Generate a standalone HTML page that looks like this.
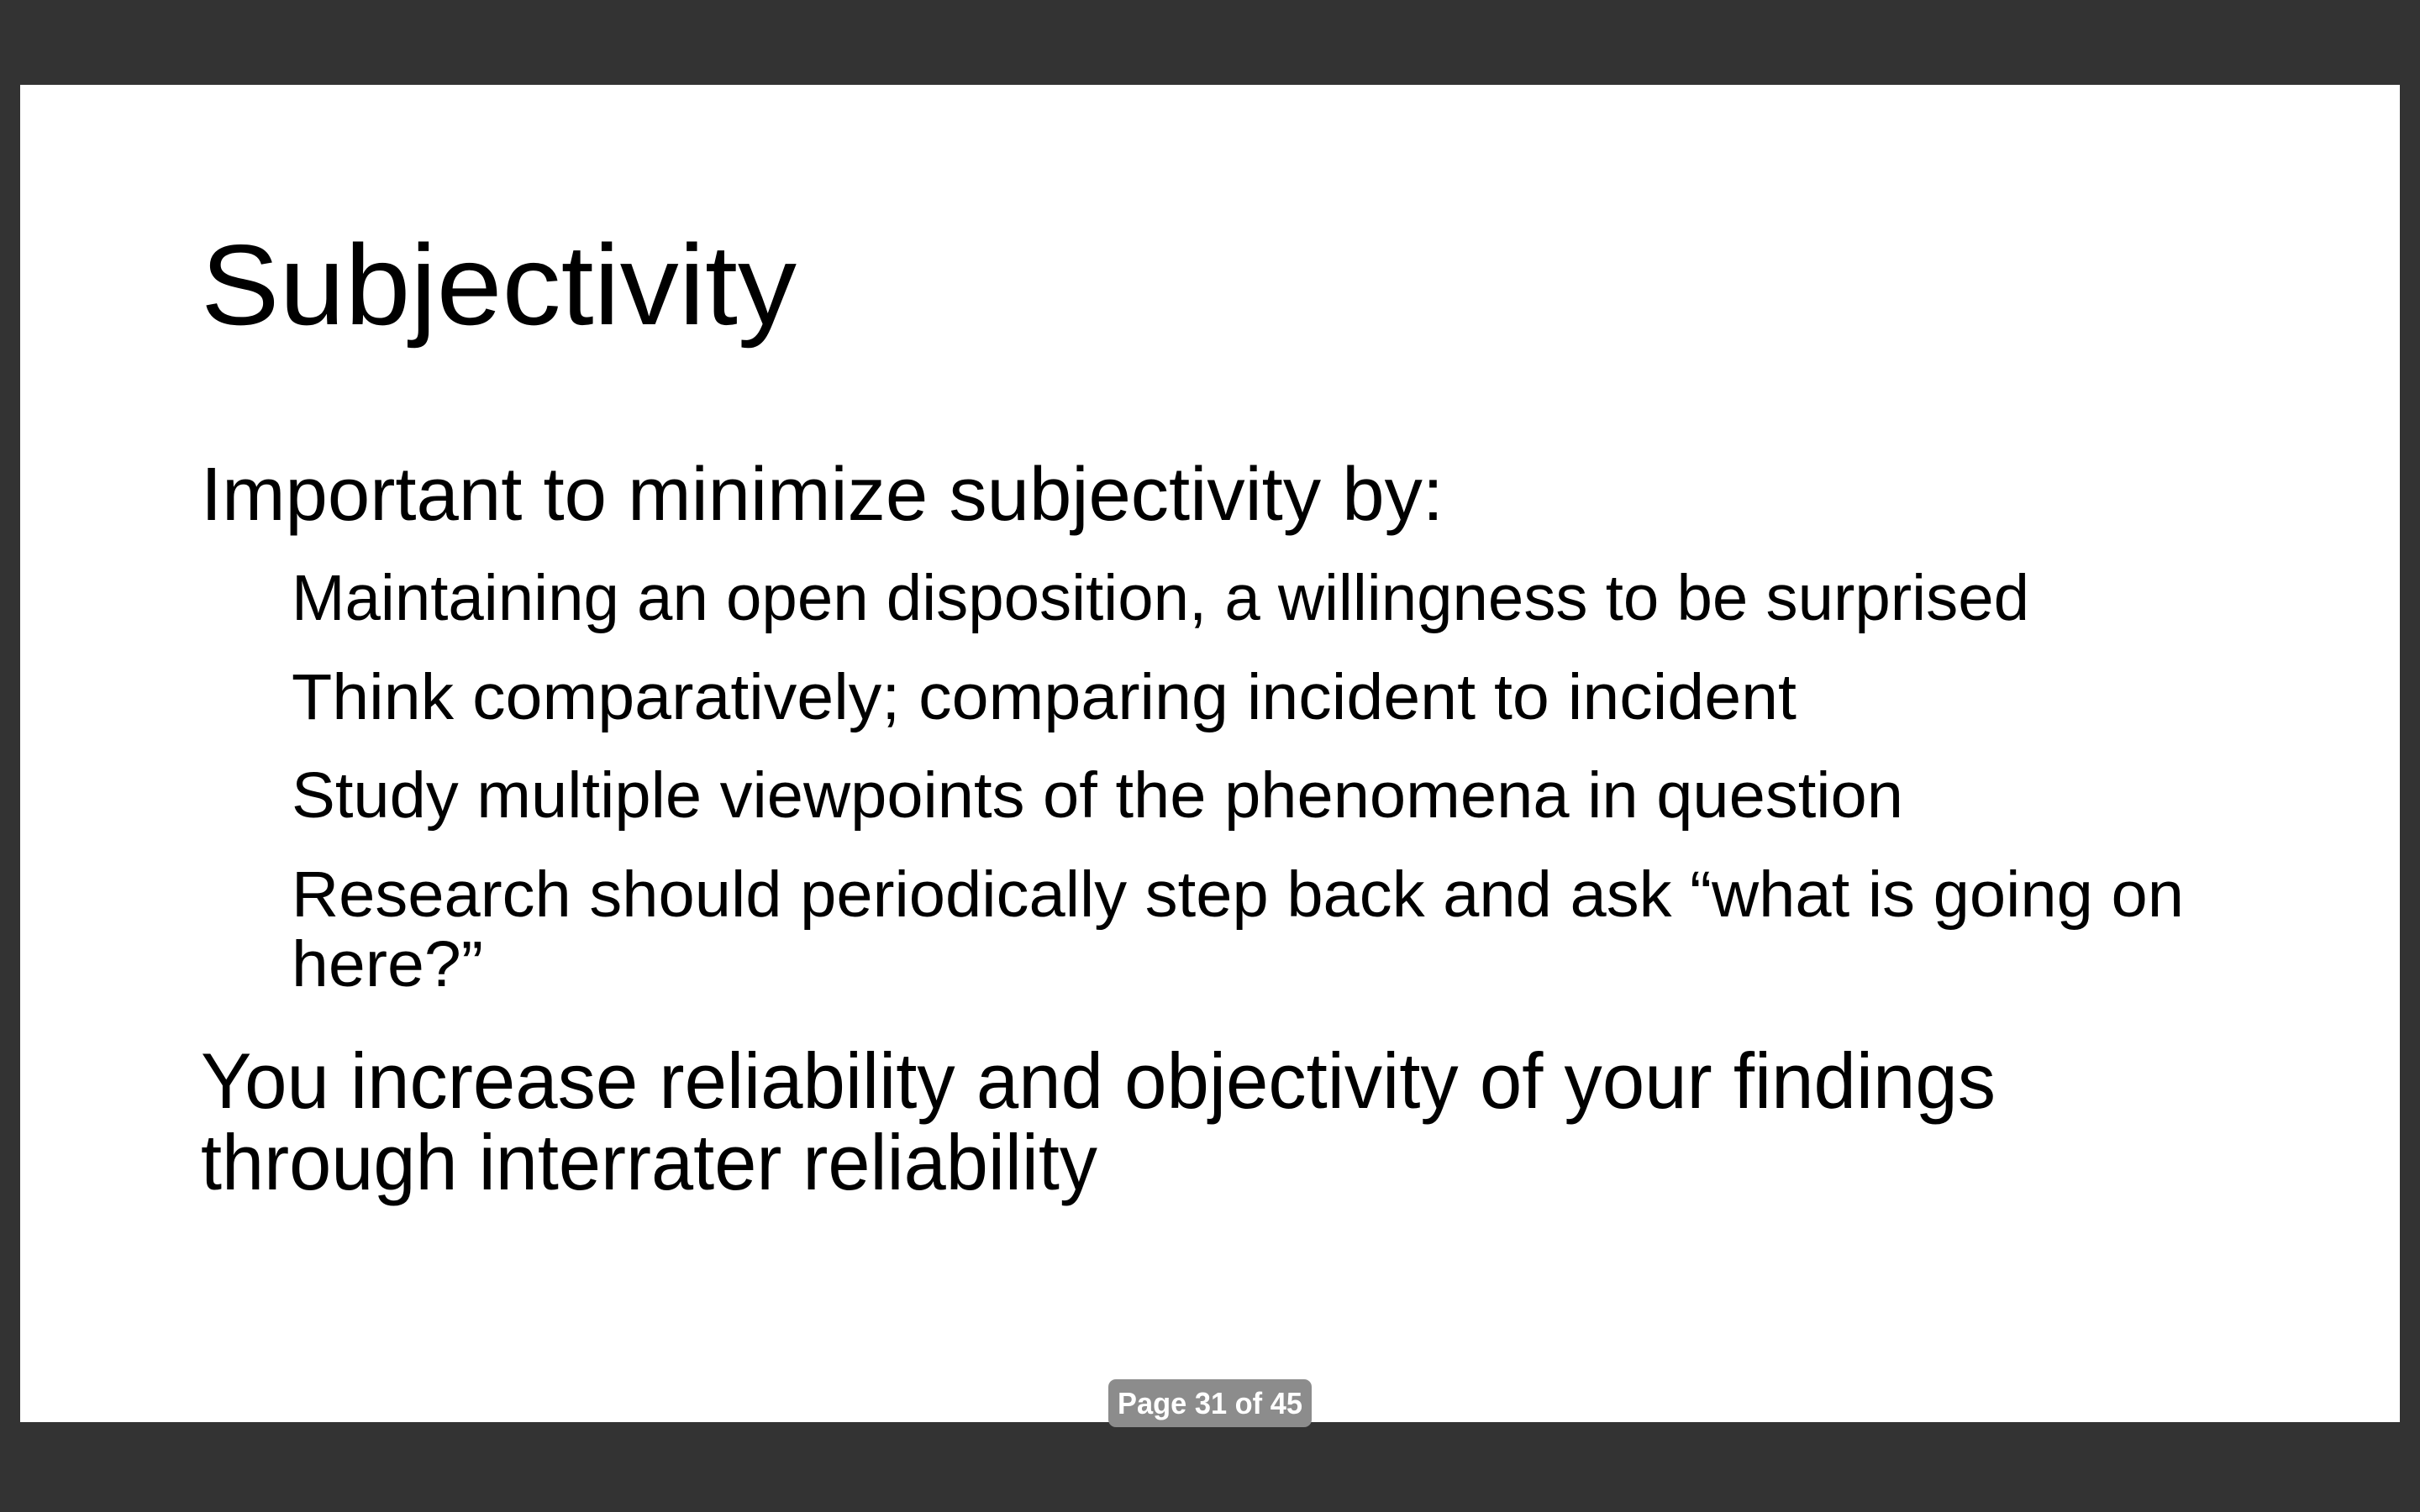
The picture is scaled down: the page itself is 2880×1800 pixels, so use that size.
<!DOCTYPE html>
<html>
<head>
<meta charset="utf-8">
<style>
html,body{margin:0;padding:0;background:#333333;width:2880px;height:1800px;overflow:hidden;}
svg{display:block;}
text{font-family:"Liberation Sans",sans-serif;fill:#000;}
</style>
</head>
<body>
<svg width="2880" height="1800" viewBox="0 0 2880 1800">
  <rect x="0" y="0" width="2880" height="1800" fill="#333333"/>
  <rect x="24" y="101" width="2832" height="1592" fill="#ffffff"/>
  <text x="239" y="386" font-size="136" textLength="709" lengthAdjust="spacingAndGlyphs">Subjectivity</text>
  <text x="239" y="619" font-size="90" textLength="1479" lengthAdjust="spacingAndGlyphs">Important to minimize subjectivity by:</text>
  <text x="347" y="738" font-size="77" textLength="2068" lengthAdjust="spacingAndGlyphs">Maintaining an open disposition, a willingness to be surprised</text>
  <text x="347" y="856" font-size="77" textLength="1791" lengthAdjust="spacingAndGlyphs">Think comparatively; comparing incident to incident</text>
  <text x="347" y="973" font-size="77" textLength="1918" lengthAdjust="spacingAndGlyphs">Study multiple viewpoints of the phenomena in question</text>
  <text x="347" y="1091" font-size="77" textLength="2252" lengthAdjust="spacingAndGlyphs">Research should periodically step back and ask “what is going on</text>
  <text x="347" y="1174" font-size="77" textLength="228" lengthAdjust="spacingAndGlyphs">here?”</text>
  <text x="239" y="1319" font-size="94" textLength="2136" lengthAdjust="spacingAndGlyphs">You increase reliability and objectivity of your findings</text>
  <text x="239" y="1416" font-size="94" textLength="1067" lengthAdjust="spacingAndGlyphs">through interrater reliability</text>
  <g>
    <rect x="1319" y="1642" width="242" height="57" rx="9" fill="#8c8c8c"/>
    <text x="1440" y="1683" font-size="36" font-weight="bold" text-anchor="middle" textLength="220" lengthAdjust="spacingAndGlyphs" style="fill:#ffffff">Page 31 of 45</text>
  </g>
</svg>
</body>
</html>
